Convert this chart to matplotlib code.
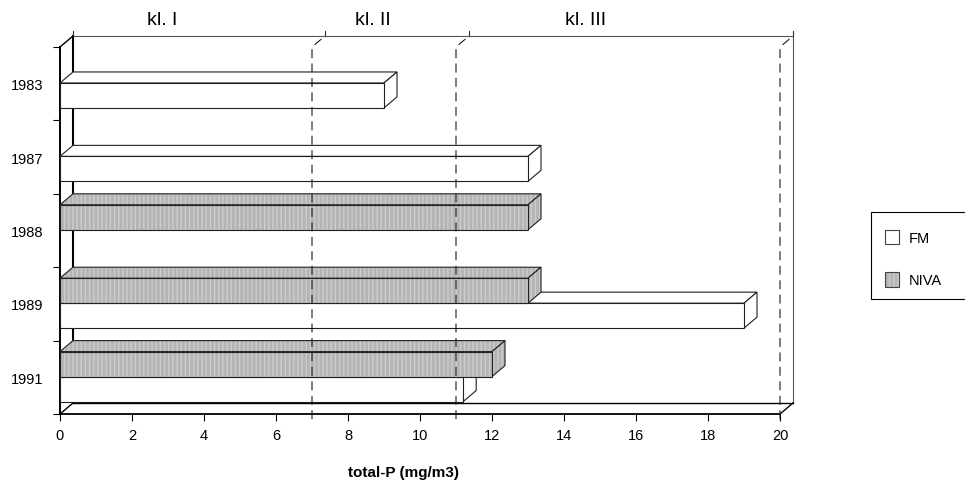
import matplotlib
matplotlib.use('Agg')
import matplotlib.pyplot as plt
from matplotlib.patches import Polygon, Rectangle
import numpy as np

# data
years = ['1983', '1987', '1988', '1989', '1991']
fm = [9.0, 13.0, None, 19.0, 11.2]
niva = [None, None, 13.0, 13.0, 12.0]
class_limits = [7, 11, 20]
class_names = ['kl. I', 'kl. II', 'kl. III']
class_label_x = [2.85, 8.7, 14.6]
xticks = np.arange(0, 21, 2)

plt.rcParams['font.family'] = ['Liberation Sans', 'DejaVu Sans']
plt.rcParams['hatch.linewidth'] = 1.0

W, H = 965, 485
fig = plt.figure(figsize=(W / 100, H / 100), dpi=100)
ax = fig.add_axes([60 / W, 1 - 415 / H, 720 / W, 367 / H])
ax.set_xlim(0, 20)
ax.set_ylim(len(years), 0)

# depth offset of the fake 3d, in data units
DX = 13 / 36
DY = 11 / 73.4

GRAY = '#b4b4b4'
STRIPE = '#cdcdcd'
EDGE = '#202020'


def face(pts, gray, z):
    if gray:
        ax.add_patch(Polygon(pts, closed=True, facecolor=GRAY, edgecolor='none',
                             zorder=z, clip_on=False))
        ax.add_patch(Polygon(pts, closed=True, facecolor='none', edgecolor=STRIPE,
                             lw=0, hatch='||||', zorder=z, clip_on=False))
        ax.add_patch(Polygon(pts, closed=True, facecolor='none', edgecolor=EDGE,
                             lw=0.8, zorder=z, clip_on=False))
    else:
        ax.add_patch(Polygon(pts, closed=True, facecolor='white', edgecolor=EDGE,
                             lw=0.8, zorder=z, clip_on=False))


def bar3d(v, y0, y1, gray, z):
    front = [(0, y0), (v, y0), (v, y1), (0, y1)]
    top = [(0, y0), (v, y0), (v + DX, y0 - DY), (DX, y0 - DY)]
    side = [(v, y0), (v + DX, y0 - DY), (v + DX, y1 - DY), (v, y1)]
    for pts in (top, side, front):
        face(pts, gray, z)


# walls and floor
n = len(years)
ax.plot([DX, 20 + DX, 20 + DX], [-DY, -DY, n - DY], color='#555555', lw=0.8, zorder=1, clip_on=False)
ax.plot([DX, DX], [-DY, n - DY], color='black', lw=1.5, zorder=1, clip_on=False)
ax.plot([DX, 20 + DX], [n - DY, n - DY], color='black', lw=1.0, zorder=1, clip_on=False)
ax.plot([0, DX], [0, -DY], color='black', lw=1.0, zorder=1, clip_on=False)
ax.plot([0, DX], [n, n - DY], color='black', lw=1.0, zorder=1, clip_on=False)
ax.plot([20, 20 + DX], [n, n - DY], color='black', lw=1.0, zorder=1, clip_on=False)

# bars, lower series first so the upper one hides its top face
z = 3
for i in range(n):
    if fm[i] is not None:
        bar3d(fm[i], i + 0.49, i + 0.83, False, z)
    z += 0.01
    if niva[i] is not None:
        bar3d(niva[i], i + 0.15, i + 0.49, True, z)
    z += 0.01

# class limits
for v in class_limits:
    ax.plot([v, v, v + DX], [n + 0.07, 0, -DY], color='#1a1a1a', lw=0.8,
            dashes=(8, 5), zorder=10, clip_on=False)
for v in [0] + class_limits:
    ax.plot([v + DX, v + DX], [-DY, -DY - 0.07], color='#303030', lw=0.8,
            zorder=10, clip_on=False)
for name, x in zip(class_names, class_label_x):
    ax.text(x, -0.37, name, ha='center', va='center', fontsize=14, clip_on=False)

# axes
for s in ['top', 'right']:
    ax.spines[s].set_visible(False)
ax.spines['left'].set_linewidth(1.4)
ax.spines['bottom'].set_linewidth(1.3)
ax.set_xticks(xticks)
ax.set_xticklabels([str(t) for t in xticks])
ax.tick_params(axis='x', length=5, width=0.8, pad=5, labelsize=10.5)
ax.set_yticks(np.arange(n + 1))
ax.set_yticklabels([])
ax.set_yticks(np.arange(n) + 0.5, minor=True)
ax.set_yticklabels(years, minor=True)
ax.tick_params(axis='y', which='major', length=5, width=0.8)
ax.tick_params(axis='y', which='minor', length=0, pad=12, labelsize=10.5)
ax.set_xlabel('total-P (mg/m3)', fontsize=11, fontweight='bold')
ax.xaxis.set_label_coords((403 - 60) / 720, -(473 - 415) / 367)
ax.xaxis.label.set_va('center')

# legend box
tf = fig.transFigure
fig.add_artist(Rectangle((871 / W, 1 - 300 / H), 110 / W, 87 / H, transform=tf,
                         facecolor='white', edgecolor='black', lw=0.8))
fig.add_artist(Rectangle((885 / W, 1 - 245 / H), 14 / W, 14 / H, transform=tf,
                         facecolor='white', edgecolor='#444444', lw=0.8))
fig.add_artist(Rectangle((885 / W, 1 - 288 / H), 14 / W, 15 / H, transform=tf,
                         facecolor=GRAY, edgecolor='none'))
fig.add_artist(Rectangle((885 / W, 1 - 288 / H), 14 / W, 15 / H, transform=tf,
                         facecolor='none', edgecolor=STRIPE, lw=0, hatch='||||'))
fig.add_artist(Rectangle((885 / W, 1 - 288 / H), 14 / W, 15 / H, transform=tf,
                         facecolor='none', edgecolor='#444444', lw=0.8))
fig.text(909 / W, 1 - 239 / H, 'FM', fontsize=10.5, va='center')
fig.text(909 / W, 1 - 281 / H, 'NIVA', fontsize=10.5, va='center')

fig.savefig('out.png', dpi=100)
